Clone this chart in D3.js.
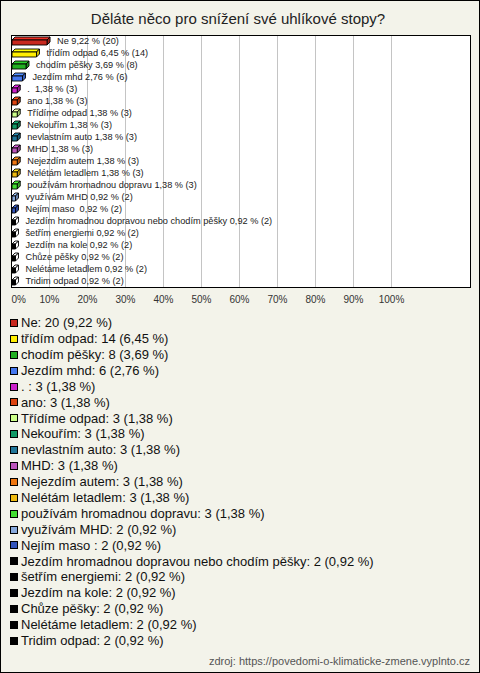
<!DOCTYPE html>
<html><head><meta charset="utf-8">
<script src="https://cdn.jsdelivr.net/npm/d3@7"></script>
<style>
html,body{margin:0;padding:0;background:#f3f3ea;}
svg{display:block;font-family:"Liberation Sans",Arial,sans-serif;}
</style></head>
<body>
<svg id="c" width="480" height="673"></svg>
<script>
const title = "Děláte něco pro snížení své uhlíkové stopy?";
const categories = ["Ne","třídím odpad","chodím pěšky","Jezdím mhd",". ","ano","Třídíme odpad","Nekouřím","nevlastním auto","MHD","Nejezdím autem","Nelétám letadlem","používám hromadnou dopravu","využívám MHD","Nejím maso ","Jezdím hromadnou dopravou nebo chodím pěšky","šetřím energiemi","Jezdím na kole","Chůze pěšky","Nelétáme letadlem","Tridim odpad"];
const counts = [20,14,8,6,3,3,3,3,3,3,3,3,3,2,2,2,2,2,2,2,2];
const percents = [9.22,6.45,3.69,2.76,1.38,1.38,1.38,1.38,1.38,1.38,1.38,1.38,1.38,0.92,0.92,0.92,0.92,0.92,0.92,0.92,0.92];
const colors = ["#c8281e","#ffee00","#22b022","#4477ee","#cc22cc","#dd4411","#ccff88","#119966","#227799","#bb55bb","#ee7711","#eebb11","#44dd33","#88aadd","#3355bb","#000000","#000000","#000000","#000000","#000000","#000000"];
const tickValues = [0,10,20,30,40,50,60,70,80,90,100];
const source = "zdroj: https://povedomi-o-klimaticke-zmene.vyplnto.cz";

const fmt = v => v.toFixed(2).replace(".", ",");
const svg = d3.select("#c");
const W = 480, H = 673;
svg.append("rect").attr("x",0.5).attr("y",0.5).attr("width",W-1).attr("height",H-1)
  .attr("fill","#f3f3ea").attr("stroke","#000");

svg.append("text").attr("x",238).attr("y",24).attr("text-anchor","middle")
  .attr("font-size",15).attr("fill","#222").text(title);

const box = {l:11, r:470, t:35, b:287};
const x = d3.scaleLinear().domain([0,100]).range([11,391]);
const y = d3.scaleBand().domain(d3.range(categories.length)).range([box.t, box.b]);

svg.append("rect").attr("x",box.l+0.5).attr("y",box.t+0.5)
  .attr("width",box.r-box.l).attr("height",box.b-box.t).attr("fill","#fff");

// grid
svg.append("g").selectAll("line").data(tickValues.slice(1)).join("line")
  .attr("x1",d=>Math.round(x(d))+0.5).attr("x2",d=>Math.round(x(d))+0.5)
  .attr("y1",box.t).attr("y2",box.b).attr("stroke","#c4c4c4").attr("stroke-width",1);

svg.append("rect").attr("x",box.l+0.5).attr("y",box.t+0.5)
  .attr("width",box.r-box.l).attr("height",box.b-box.t).attr("fill","none").attr("stroke","#000");

// axis labels
const axis = d3.axisBottom(x).tickValues(tickValues).tickSize(0).tickFormat(d=>d+"%");
const ag = svg.append("g").attr("transform",`translate(0,${box.b+6})`).call(axis);
ag.select(".domain").remove();
ag.selectAll("text").attr("font-size",10).attr("fill","#333").attr("font-family","Liberation Sans, Arial, sans-serif")
  .attr("text-anchor",d=>d===0?"start":"middle");

// 3D bars
const dep = 3;
const bars = svg.append("g");
categories.forEach((c,i)=>{
  const cy = y(i) + y.bandwidth()/2 + 1;
  const x0 = x(0)+1, x1 = x(percents[i])+1;
  const top = cy-2, bot = cy+3;
  const col = d3.color(colors[i]);
  const g = bars.append("g").attr("stroke","#000").attr("stroke-width",0.9).attr("stroke-linejoin","round");
  g.append("polygon").attr("points",[[x0,top],[x0+dep,top-dep],[x1+dep,top-dep],[x1,top]].join(" "))
    .attr("fill", colors[i]==="#000000" ? "#fff" : col.brighter(0.5));
  g.append("polygon").attr("points",[[x1,top],[x1+dep,top-dep],[x1+dep,bot-dep],[x1,bot]].join(" "))
    .attr("fill", colors[i]==="#000000" ? "#fff" : col.darker(0.6));
  g.append("rect").attr("x",x0).attr("y",top).attr("width",x1-x0).attr("height",bot-top)
    .attr("fill", colors[i]);
  svg.append("text")
    .attr("transform",`translate(${x1+dep+7},${y(i)+y.bandwidth()/2+3.4}) scale(1.07,1)`)
    .attr("font-size",8.6).attr("fill","#222").style("white-space","pre")
    .text(`${c} ${fmt(percents[i])} % (${counts[i]})`);
});

// legend
const ly = d3.scaleLinear().domain([0,categories.length-1]).range([322.5,640.3]);
const lg = svg.append("g");
categories.forEach((c,i)=>{
  lg.append("rect").attr("x",10.5).attr("y",Math.round(ly(i)-3.5)+0.5).attr("width",7).attr("height",7)
    .attr("fill",colors[i]).attr("stroke","#000");
  lg.append("text").attr("x",21).attr("y",ly(i)+4.7).attr("font-size",13).attr("fill","#111")
    .style("white-space","pre").text(`${c}: ${counts[i]} (${fmt(percents[i])} %)`);
});

svg.append("text").attr("x",470).attr("y",665).attr("text-anchor","end")
  .attr("font-size",11).attr("fill","#555").text(source);
</script>
</body></html>
